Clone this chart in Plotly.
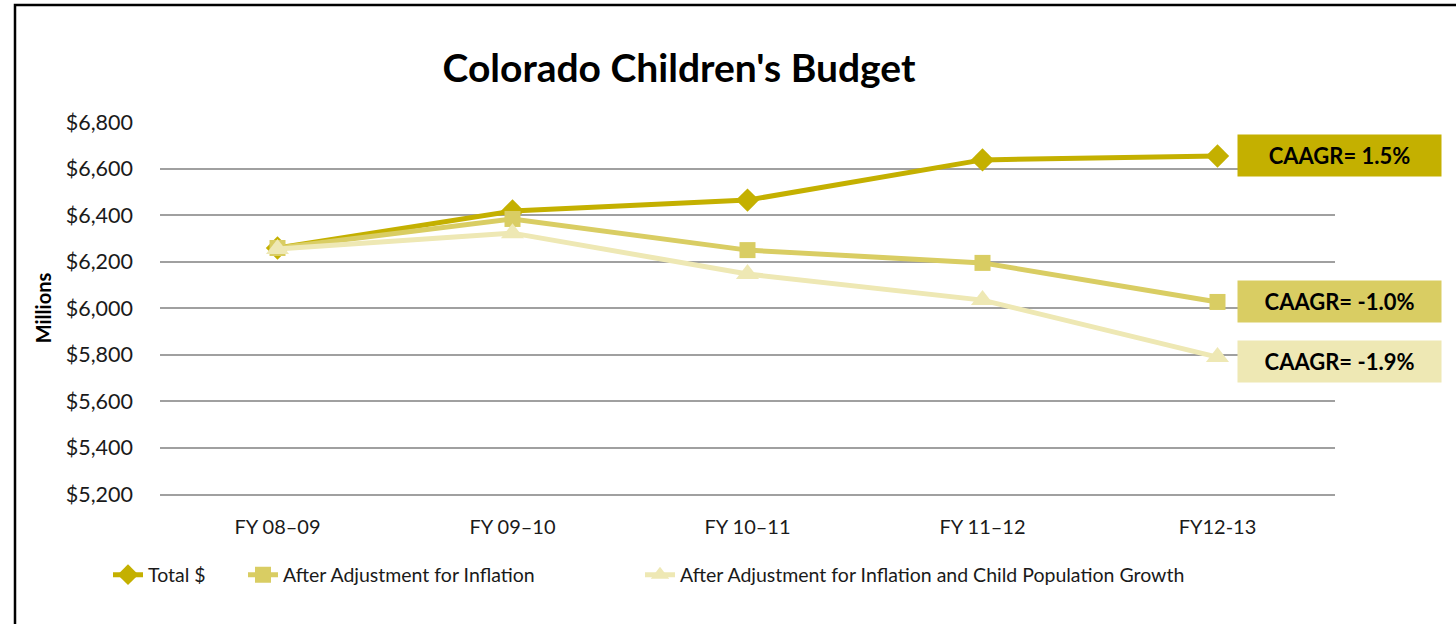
import plotly.graph_objects as go

categories = ["FY 08–09", "FY 09–10", "FY 10–11", "FY 11–12", "FY12-13"]
total = [6258, 6417, 6464, 6637, 6654]
inflation = [6258, 6383, 6249, 6194, 6026]
population = [6254, 6322, 6146, 6034, 5789]
series_names = ["Total $", "After Adjustment for Inflation",
                "After Adjustment for Inflation and Child Population Growth"]
caagr_labels = ["CAAGR= 1.5%", "CAAGR= -1.0%", "CAAGR= -1.9%"]
y_ticks = [5200, 5400, 5600, 5800, 6000, 6200, 6400, 6600, 6800]

colors = ["#C4B000", "#D9CD63", "#EEE8B4"]
symbols = ["diamond", "square", "triangle-up"]
sizes = [18, 16, 20]
values = [total, inflation, population]
legend_ids = ["legend", "legend2", "legend3"]
legend_px = [108, 243, 640]

W, H = 1456, 624
L, R, T, B = 160, 1335, 122, 494
FONT = "Lato"

def px_to_paper_x(px):
    return (px - L) / (R - L)

def px_to_paper_y(py):
    return (B - py) / (B - T)

fig = go.Figure()
for name, vals, col, sym, sz, lid in zip(series_names, values, colors, symbols, sizes, legend_ids):
    fig.add_trace(go.Scatter(
        x=categories, y=vals, name=name, mode="lines+markers",
        line=dict(color=col, width=5),
        marker=dict(symbol=sym, size=sz, color=col),
        legend=lid,
    ))

# CAAGR label boxes
box_centers = [155.5, 301.5, 361.5]
for lab, col, cy in zip(caagr_labels, colors, box_centers):
    fig.add_annotation(
        xref="paper", yref="paper", x=px_to_paper_x(1237), y=px_to_paper_y(cy),
        xanchor="left", yanchor="middle", text="<b>%s</b>" % lab, showarrow=False,
        bgcolor=col, width=203, height=41, borderpad=0, align="center",
        font=dict(family=FONT, size=22, color="#000000"),
    )

# outer frame
fig.add_shape(type="rect", xref="paper", yref="paper",
              x0=px_to_paper_x(15), x1=px_to_paper_x(1480),
              y0=px_to_paper_y(650), y1=px_to_paper_y(5),
              line=dict(color="#000000", width=2.5), layer="above")

legend_common = dict(orientation="h", xanchor="left", yanchor="middle",
                     y=px_to_paper_y(575), bgcolor="rgba(0,0,0,0)",
                     font=dict(family=FONT, size=19.5, color="#1a1a1a"))

fig.update_layout(
    width=W, height=H,
    margin=dict(l=L, r=W - R, t=T, b=H - B),
    paper_bgcolor="white", plot_bgcolor="white",
    title=dict(text="<b>Colorado Children's Budget</b>", x=679 / W,
               xanchor="center", y=1 - 68 / H, yanchor="middle",
               font=dict(family=FONT, size=39, color="#000000")),
    font=dict(family=FONT, size=18, color="#1a1a1a"),
    showlegend=True,
    legend=dict(x=px_to_paper_x(legend_px[0]), **legend_common),
    legend2=dict(x=px_to_paper_x(legend_px[1]), **legend_common),
    legend3=dict(x=px_to_paper_x(legend_px[2]), **legend_common),
    xaxis=dict(showgrid=False, showline=True, linecolor="#A0A0A0", linewidth=1.5,
               zeroline=False, range=[-0.5, 4.5],
               tickfont=dict(family=FONT, size=20, color="#1a1a1a"),
               ticks="", ticklabelstandoff=14),
    yaxis=dict(range=[5200, 6800], tickvals=y_ticks,
               ticktext=["${:,}".format(v) for v in y_ticks],
               showgrid=True, gridcolor="#A0A0A0", gridwidth=1.5,
               zeroline=False, showline=False, ticks="",
               tickfont=dict(family=FONT, size=21.5, color="#1a1a1a"),
               ticklabelstandoff=26,
               title=dict(text="<b>Millions</b>", standoff=8,
                          font=dict(family=FONT, size=20, color="#000000"))),
)

fig.write_html("out.html")
